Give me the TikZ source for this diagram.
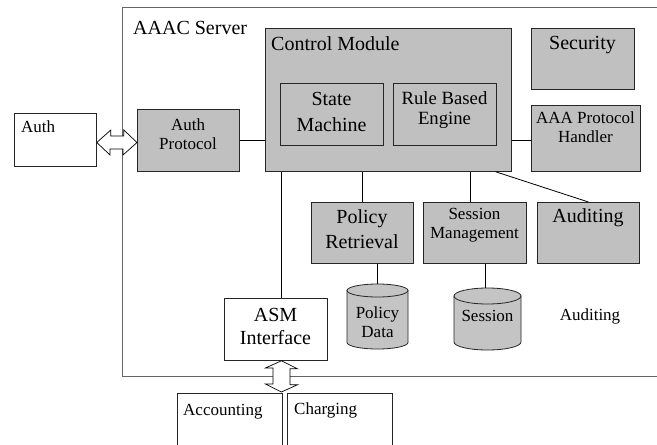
\documentclass[tikz,border=0pt]{standalone}
\usepackage{fontspec}
\setmainfont{Liberation Serif}
\usetikzlibrary{calc}
\definecolor{boxgray}{RGB}{192,192,192}
\definecolor{cylgray}{RGB}{196,196,196}
\definecolor{srvline}{RGB}{100,100,100}
\begin{document}
\begin{tikzpicture}[x=1pt,y=-1pt,
  box/.style={draw=black!85, fill=boxgray, line width=0.8pt, inner sep=0pt, anchor=north west},
  wbox/.style={box, fill=white},
  big/.style={font=\fontsize{20}{25}\selectfont, inner sep=0pt, align=center},
  mid/.style={font=\fontsize{18.7}{20}\selectfont, inner sep=0pt, align=center},
  small/.style={font=\fontsize{17}{19}\selectfont, inner sep=0pt, align=center},
  conn/.style={draw=black, line width=0.8pt},
  dbl/.style={draw=black, fill=white, line width=0.7pt, line join=miter},
  cyl/.style={draw=black!85, fill=cylgray, line width=0.8pt}
]
\path[use as bounding box, clip] (0,0) rectangle (657,445);
\fill[white] (0,0) rectangle (657,445);

% server frame
\node[draw=srvline, line width=1pt, inner sep=0pt, anchor=north west,
      minimum width=540pt, minimum height=369pt] (server) at (122,7) {};
\node[big, anchor=base west] (tserver) at (133,34) {AAAC Server};

% boxes
\node[wbox, minimum width=82pt, minimum height=53pt] (auth) at (14,113) {};
\node[small, anchor=base west] (tauth) at (21,132) {Auth};

\node[box, minimum width=102pt, minimum height=62pt] (ap) at (137,109) {};
\node[small] (tap) at (188,134) {Auth\\Protocol};

\node[box, minimum width=246pt, minimum height=143pt] (cm) at (265,28) {};
\node[big, anchor=base west] (tcm) at (271,50) {Control Module};

\node[box, minimum width=103pt, minimum height=62pt] (smach) at (280,83) {};
\node[big, font=\fontsize{20}{26}\selectfont] (tsmach) at (331.5,112) {State\\Machine};

\node[box, minimum width=103pt, minimum height=62pt] (rbe) at (393,83) {};
\node[mid] (trbe) at (444.5,110) {Rule Based\\Engine};

\node[box, minimum width=103pt, minimum height=61pt] (sec) at (531,28) {};
\node[big] (tsec) at (582.5,45) {Security};

\node[box, minimum width=109pt, minimum height=66pt] (aaa) at (531,105) {};
\node[small] (taaa) at (585.5,127.5) {AAA Protocol\\Handler};

\node[box, minimum width=102pt, minimum height=61pt] (pr) at (311,202) {};
\node[big] (tpr) at (362,229.5) {Policy\\Retrieval};

\node[box, minimum width=103pt, minimum height=61pt] (sm) at (423,202) {};
\node[small] (tsm) at (474.5,225.5) {Session\\Management};

\node[box, minimum width=102pt, minimum height=61pt] (aud) at (537,202) {};
\node[big] (taud) at (588,218) {Auditing};

\node[wbox, minimum width=103pt, minimum height=62pt] (asm) at (224,298) {};
\node[big, font=\fontsize{20}{23}\selectfont] (tasm) at (275.5,326.5) {ASM\\Interface};

\node[wbox, minimum width=105pt, minimum height=90pt] (acc) at (177,393) {};
\node[small, anchor=base west] (tacc) at (183,415) {Accounting};
\node[wbox, minimum width=105pt, minimum height=90pt] (chg) at (287,393) {};
\node[small, anchor=base west] (tchg) at (294,414) {Charging};

% cylinders
\coordinate (pdtop) at (377.5,284);
\path[cyl] (347,290.5) -- (347,342.5) arc[start angle=180, end angle=0, x radius=30.5, y radius=6.5] -- (408,290.5) -- cycle;
\draw[cyl] (377.5,290.5) ellipse [x radius=30.5, y radius=6.5];
\node[small] (tpd) at (377.5,322.5) {Policy\\Data};

\coordinate (sestop) at (487.5,288);
\path[cyl] (454,296) -- (454,342) arc[start angle=180, end angle=0, x radius=33.5, y radius=8] -- (521,296) -- cycle;
\draw[cyl] (487.5,296) ellipse [x radius=33.5, y radius=8];
\node[small] (tses) at (487.5,316) {Session};

\node[small] (taud2) at (590,316) {Auditing};

% connectors
\draw[conn] (ap.east) -- (ap.east -| cm.west);
\draw[conn] (aaa.west |- 0,140) -- (cm.east |- 0,140);
\draw[conn] (pr.north) -- (pr.north |- cm.south);
\draw[conn] (sm.north) ++(-4.5,0) coordinate (smn) -- (smn |- cm.south);
\draw[conn] ([xshift=-16pt]cm.south east) -- (aud.north);
\draw[conn] ([xshift=5.5pt]asm.north) coordinate (asmn) -- (asmn |- cm.south);
\draw[conn] (pdtop) -- (pdtop |- pr.south);
\draw[conn] ([xshift=-2.5pt]sestop) coordinate (sest) -- (sest |- sm.south);

% double arrows
\coordinate (ha) at (auth.east |- 0,142.5);
\coordinate (hb) at (ap.west |- 0,142.5);
\draw[dbl] (ha) -- ++(14,-12.5) -- ++(0,6) -- ++(13,0) -- ++(0,-6) -- (hb)
  -- ++(-14,12.5) -- ++(0,-6) -- ++(-13,0) -- ++(0,6) -- cycle;
\coordinate (va) at ([xshift=5.5pt]asm.south);
\coordinate (vb) at (va |- acc.north);
\draw[dbl] (va) -- ++(16,8) -- ++(-7.5,0) -- ++(0,16) -- ++(7.5,0) -- ([yshift=1pt]vb)
  -- ++(-16,-8) -- ++(7.5,0) -- ++(0,-16) -- ++(-7.5,0) -- cycle;
\end{tikzpicture}
\end{document}
